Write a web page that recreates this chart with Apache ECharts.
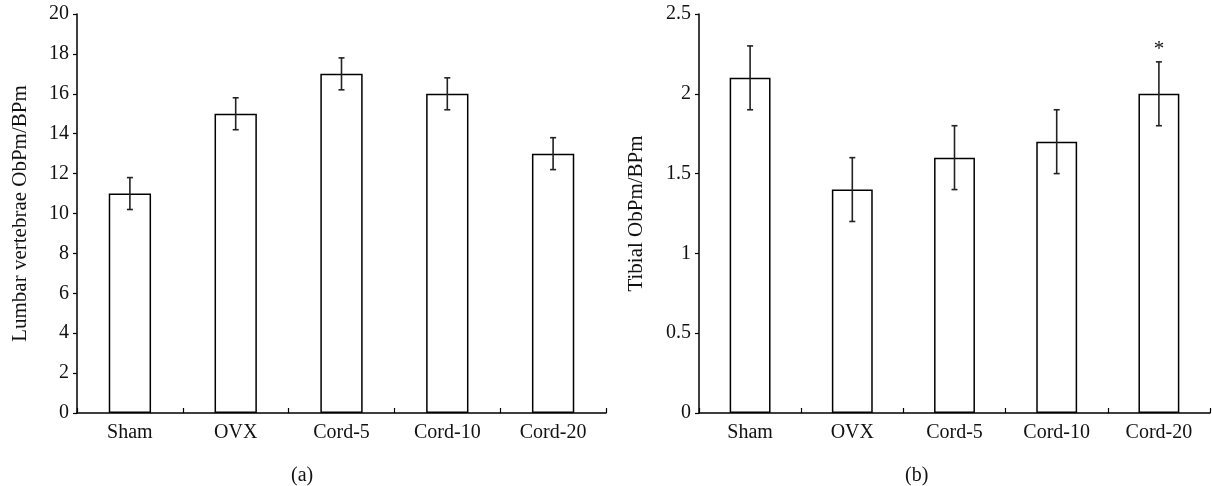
<!DOCTYPE html>
<html>
<head>
<meta charset="utf-8">
<script src="https://cdn.jsdelivr.net/npm/echarts@6/dist/echarts.min.js"></script>
<style>
html,body{margin:0;padding:0;background:#fff;}
#chart{width:1212px;height:486px;}
</style>
</head>
<body>
<div id="chart"></div>
<script>
// ---- data ----
var categories = ['Sham', 'OVX', 'Cord-5', 'Cord-10', 'Cord-20'];
var lumbarValues = [11, 15, 17, 16, 13];
var lumbarErrors = [0.8, 0.8, 0.8, 0.8, 0.8];
var lumbarMarks = ['', '', '', '', ''];
var tibialValues = [2.1, 1.4, 1.6, 1.7, 2.0];
var tibialErrors = [0.2, 0.2, 0.2, 0.2, 0.2];
var tibialMarks = ['', '', '', '', '*'];
var panelLabels = ['(a)', '(b)'];
var yNames = ['Lumbar vertebrae ObPm/BPm', 'Tibial ObPm/BPm'];

var FONT = 'Liberation Serif';

function errData(vals, errs, marks) {
  return vals.map(function (v, i) { return [i, v - errs[i], v + errs[i], marks[i]]; });
}

function errRender(params, api) {
  var i = api.value(0);
  var lo = api.coord([i, api.value(1)]);
  var hi = api.coord([i, api.value(2)]);
  var cap = 3;
  var style = { stroke: '#222', lineWidth: 1.6 };
  var children = [
    { type: 'line', shape: { x1: hi[0], y1: hi[1], x2: lo[0], y2: lo[1] }, style: style },
    { type: 'line', shape: { x1: hi[0] - cap, y1: hi[1], x2: hi[0] + cap, y2: hi[1] }, style: style },
    { type: 'line', shape: { x1: lo[0] - cap, y1: lo[1], x2: lo[0] + cap, y2: lo[1] }, style: style }
  ];
  var mark = api.value(3);
  if (mark) {
    children.push({
      type: 'text',
      style: { text: mark, x: hi[0], y: hi[1] - 2, align: 'center', verticalAlign: 'bottom',
               font: '21px "' + FONT + '"', fill: '#111' }
    });
  }
  return { type: 'group', children: children };
}

function xAxisCfg(gi) {
  return {
    type: 'category', gridIndex: gi, data: categories,
    axisLine: { lineStyle: { color: '#000', width: 1.5 } },
    axisTick: { show: true, inside: true, length: 5, lineStyle: { color: '#000', width: 1.2 } },
    axisLabel: { color: '#111', fontFamily: FONT, fontSize: 20, margin: 10 },
    splitLine: { show: false }
  };
}

function yAxisCfg(gi, max, interval, name, gap) {
  return {
    type: 'value', gridIndex: gi, min: 0, max: max, interval: interval,
    name: name, nameLocation: 'middle', nameGap: gap,
    nameTextStyle: { color: '#111', fontFamily: FONT, fontSize: 21 },
    axisLine: { show: true, lineStyle: { color: '#000', width: 1.5 } },
    axisTick: { show: true, inside: false, length: 4, lineStyle: { color: '#000', width: 1.2 } },
    axisLabel: { color: '#111', fontFamily: FONT, fontSize: 20, margin: 8 },
    splitLine: { show: false }
  };
}

var barStyle = { color: '#fff', borderColor: '#000', borderWidth: 1.5 };

var chart = echarts.init(document.getElementById('chart'), null, { renderer: 'canvas' });
chart.setOption({
  backgroundColor: '#fff',
  animation: false,
  title: [
    { text: panelLabels[0], left: 286, top: 461,
      textStyle: { fontFamily: FONT, fontSize: 20, fontWeight: 'normal', color: '#111' } },
    { text: panelLabels[1], left: 900, top: 461,
      textStyle: { fontFamily: FONT, fontSize: 20, fontWeight: 'normal', color: '#111' } }
  ],
  grid: [
    { left: 77, top: 14, width: 529, height: 399 },
    { left: 699, top: 14, width: 511, height: 399 }
  ],
  xAxis: [xAxisCfg(0), xAxisCfg(1)],
  yAxis: [
    yAxisCfg(0, 20, 2, yNames[0], 46),
    yAxisCfg(1, 2.5, 0.5, yNames[1], 52)
  ],
  series: [
    { type: 'bar', xAxisIndex: 0, yAxisIndex: 0, data: lumbarValues, barWidth: '40%', itemStyle: barStyle },
    { type: 'custom', xAxisIndex: 0, yAxisIndex: 0, renderItem: errRender,
      data: errData(lumbarValues, lumbarErrors, lumbarMarks), z: 10 },
    { type: 'bar', xAxisIndex: 1, yAxisIndex: 1, data: tibialValues, barWidth: '40%', itemStyle: barStyle },
    { type: 'custom', xAxisIndex: 1, yAxisIndex: 1, renderItem: errRender,
      data: errData(tibialValues, tibialErrors, tibialMarks), z: 10 }
  ]
});
</script>
</body>
</html>
